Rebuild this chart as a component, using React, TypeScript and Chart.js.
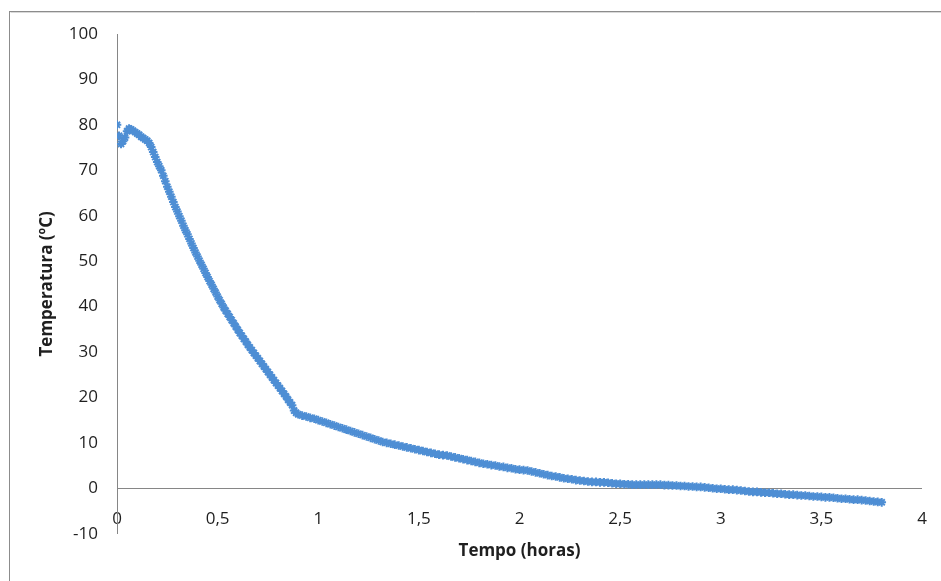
import React, { useEffect, useRef } from "react";
import { Chart, registerables } from "chart.js";

Chart.register(...registerables);

// Tempo (horas)
const timeHours: number[] = [
  0.00, 0.01, 0.02, 0.03, 0.04, 0.05, 0.06, 0.07, 0.08, 0.09,
  0.10, 0.11, 0.12, 0.13, 0.14, 0.15, 0.16, 0.17, 0.18, 0.19,
  0.20, 0.21, 0.22, 0.23, 0.24, 0.25, 0.26, 0.27, 0.28, 0.29,
  0.30, 0.31, 0.32, 0.33, 0.34, 0.35, 0.36, 0.37, 0.38, 0.39,
  0.40, 0.41, 0.42, 0.43, 0.44, 0.45, 0.46, 0.47, 0.48, 0.49,
  0.50, 0.51, 0.52, 0.53, 0.54, 0.55, 0.56, 0.57, 0.58, 0.59,
  0.60, 0.61, 0.62, 0.63, 0.64, 0.65, 0.66, 0.67, 0.68, 0.69,
  0.70, 0.71, 0.72, 0.73, 0.74, 0.75, 0.76, 0.77, 0.78, 0.79,
  0.80, 0.81, 0.82, 0.83, 0.84, 0.85, 0.86, 0.87, 0.88, 0.89,
  0.90,
  0.92, 0.94, 0.96, 0.98, 1.00, 1.02, 1.04, 1.06, 1.08, 1.10,
  1.12, 1.14, 1.16, 1.18, 1.20, 1.22, 1.24, 1.26, 1.28, 1.30,
  1.32, 1.34, 1.36, 1.38, 1.40, 1.42, 1.44, 1.46, 1.48, 1.50,
  1.52, 1.54, 1.56, 1.58, 1.60, 1.62, 1.64, 1.66, 1.68, 1.70,
  1.72, 1.74, 1.76, 1.78, 1.80, 1.82, 1.84, 1.86, 1.88, 1.90,
  1.92, 1.94, 1.96, 1.98, 2.00, 2.02, 2.04, 2.06, 2.08, 2.10,
  2.12, 2.14, 2.16, 2.18, 2.20, 2.22, 2.24, 2.26, 2.28, 2.30,
  2.32, 2.34, 2.36, 2.38, 2.40, 2.42, 2.44, 2.46, 2.48, 2.50,
  2.52, 2.54, 2.56, 2.58, 2.60, 2.62, 2.64, 2.66, 2.68, 2.70,
  2.72, 2.74, 2.76, 2.78, 2.80, 2.82, 2.84, 2.86, 2.88, 2.90,
  2.92, 2.94, 2.96, 2.98, 3.00, 3.02, 3.04, 3.06, 3.08, 3.10,
  3.12, 3.14, 3.16, 3.18, 3.20, 3.22, 3.24, 3.26, 3.28, 3.30,
  3.32, 3.34, 3.36, 3.38, 3.40, 3.42, 3.44, 3.46, 3.48, 3.50,
  3.52, 3.54, 3.56, 3.58, 3.60, 3.62, 3.64, 3.66, 3.68, 3.70,
  3.72, 3.74, 3.76, 3.78, 3.80,
];

// Temperatura (ºC)
const temperatureC: number[] = [
  80.0, 77.6, 75.8, 76.4, 77.2, 78.6, 79.2, 79.0, 78.7, 78.4,
  78.1, 77.8, 77.4, 77.1, 76.8, 76.5, 76.0, 75.1, 74.0, 72.9,
  71.8, 70.9, 70.0, 68.8, 67.6, 66.4, 65.3, 64.2, 63.0, 61.9,
  60.9, 59.9, 58.9, 57.8, 56.8, 55.9, 54.9, 53.9, 52.9, 51.9,
  51.0, 50.1, 49.2, 48.3, 47.4, 46.5, 45.6, 44.8, 43.9, 43.1,
  42.2, 41.4, 40.6, 39.8, 39.1, 38.4, 37.7, 37.0, 36.3, 35.6,
  34.9, 34.2, 33.6, 32.9, 32.3, 31.6, 31.0, 30.4, 29.8, 29.2,
  28.6, 28.0, 27.4, 26.8, 26.2, 25.6, 25.0, 24.4, 23.8, 23.2,
  22.6, 22.0, 21.4, 20.8, 20.2, 19.5, 18.9, 18.3, 17.1, 16.6,
  16.3,
  16.0, 15.8, 15.5, 15.3, 15.0, 14.7, 14.4, 14.1, 13.8, 13.5,
  13.2, 12.9, 12.6, 12.3, 12.0, 11.7, 11.4, 11.1, 10.8, 10.5,
  10.2, 10.0, 9.8, 9.6, 9.4, 9.2, 9.0, 8.8, 8.6, 8.4,
  8.2, 8.0, 7.8, 7.6, 7.4, 7.3, 7.2, 7.0, 6.8, 6.6,
  6.4, 6.2, 6.0, 5.8, 5.6, 5.4, 5.3, 5.1, 5.0, 4.8,
  4.7, 4.5, 4.4, 4.2, 4.1, 4.0, 3.9, 3.7, 3.5, 3.3,
  3.1, 2.9, 2.7, 2.6, 2.4, 2.2, 2.1, 2.0, 1.8, 1.7,
  1.6, 1.5, 1.4, 1.4, 1.3, 1.3, 1.2, 1.1, 1.0, 1.0,
  0.9, 0.9, 0.8, 0.8, 0.8, 0.8, 0.8, 0.8, 0.8, 0.8,
  0.7, 0.7, 0.6, 0.6, 0.5, 0.5, 0.4, 0.4, 0.3, 0.3,
  0.2, 0.1, 0.0, -0.1, -0.1, -0.2, -0.3, -0.3, -0.4, -0.5,
  -0.6, -0.7, -0.8, -0.8, -0.9, -1.0, -1.0, -1.1, -1.2, -1.2,
  -1.3, -1.4, -1.4, -1.5, -1.6, -1.6, -1.7, -1.8, -1.8, -1.9,
  -2.0, -2.0, -2.1, -2.2, -2.3, -2.3, -2.4, -2.5, -2.5, -2.6,
  -2.7, -2.8, -2.9, -3.0, -3.1,
];

const X_MIN = 0;
const X_MAX = 4;
const X_STEP = 0.5;
const Y_MIN = -10;
const Y_MAX = 100;
const Y_STEP = 10;

const X_TITLE = "Tempo (horas)";
const Y_TITLE = "Temperatura (ºC)";

const W = 941;
const H = 581;
const AXIS_COLOR = "#868686";
const TEXT_COLOR = "#1f1f1f";
const MARK_COLOR = "#4e8ed4";
const FONT = "'Open Sans', 'DejaVu Sans', sans-serif";

const framePlugin = {
  id: "frame",
  beforeDraw(chart: any) {
    const ctx = chart.ctx;
    ctx.save();
    ctx.fillStyle = "#ffffff";
    ctx.fillRect(0, 0, chart.width, chart.height);
    ctx.strokeStyle = "#8c8c8c";
    ctx.lineWidth = 1;
    ctx.strokeRect(9.5, 11.5, chart.width + 20, chart.height + 20);
    ctx.strokeStyle = "#d9d9d9";
    ctx.beginPath();
    ctx.moveTo(10.5, 12.5);
    ctx.lineTo(chart.width, 12.5);
    ctx.stroke();
    ctx.restore();
  },
};

export default function App() {
  const canvasRef = useRef<HTMLCanvasElement | null>(null);

  useEffect(() => {
    const canvas = canvasRef.current;
    if (!canvas) return;
    const points = timeHours.map((t, i) => ({ x: t, y: temperatureC[i] }));
    const chart = new Chart(canvas, {
      type: "scatter",
      data: {
        datasets: [
          {
            label: "Temperatura",
            data: points,
            pointStyle: "star",
            pointRadius: 4.3,
            pointBorderWidth: 2,
            borderColor: MARK_COLOR,
            backgroundColor: MARK_COLOR,
            pointHoverRadius: 4.3,
          },
        ],
      },
      options: {
        animation: false,
        responsive: true,
        maintainAspectRatio: false,
        events: [],
        layout: { padding: { top: 34, right: 19, left: 0, bottom: 0 } },
        plugins: {
          legend: { display: false },
          tooltip: { enabled: false },
        },
        scales: {
          x: {
            type: "linear",
            position: "bottom",
            min: X_MIN,
            max: X_MAX,
            grid: { display: false, drawTicks: false },
            border: { display: false },
            ticks: {
              stepSize: X_STEP,
              mirror: true,
              padding: 4.5,
              color: TEXT_COLOR,
              font: { family: FONT, size: 17 },
              maxRotation: 0,
              callback: (v: any) => String(v).replace(".", ","),
            },
            title: {
              display: true,
              text: X_TITLE,
              color: TEXT_COLOR,
              font: { family: FONT, size: 17, weight: "bold" },
              padding: { top: 0, bottom: 20 },
            },
            afterFit: (scale: any) => {
              scale.height = 47.3;
            },
          },
          y: {
            type: "linear",
            position: "left",
            min: Y_MIN,
            max: Y_MAX,
            grid: {
              display: true,
              drawTicks: false,
              drawOnChartArea: true,
              color: (ctx: any) =>
                ctx.tick && ctx.tick.value === 0 ? AXIS_COLOR : "rgba(0,0,0,0)",
              lineWidth: 1,
            },
            border: { display: true, color: AXIS_COLOR, width: 1 },
            ticks: {
              stepSize: Y_STEP,
              padding: 19,
              color: TEXT_COLOR,
              font: { family: FONT, size: 17 },
            },
            title: {
              display: true,
              text: Y_TITLE,
              color: TEXT_COLOR,
              font: { family: FONT, size: 17, weight: "bold" },
              padding: { top: 37, bottom: 0 },
            },
            afterFit: (scale: any) => {
              scale.width = 117;
            },
          },
        },
      },
      plugins: [framePlugin],
    });
    return () => chart.destroy();
  }, []);

  return (
    <div
      style={{
        position: "absolute",
        left: 0,
        top: 0,
        width: W,
        height: H,
        background: "#ffffff",
      }}
    >
      <canvas ref={canvasRef} />
    </div>
  );
}
